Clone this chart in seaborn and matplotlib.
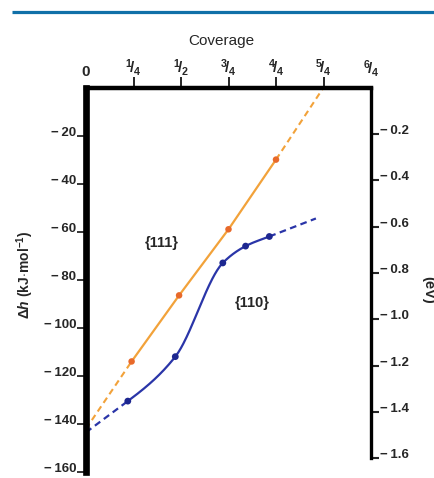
import numpy as np
import pandas as pd
import matplotlib
matplotlib.use("Agg")
import matplotlib.pyplot as plt
from matplotlib.lines import Line2D
import seaborn as sns

# Heat of adsorption vs. coverage on two crystal faces
cov_111 = [0.24, 0.49, 0.75, 1.00]
dh_111 = [-114.0, -86.5, -59.0, -30.0]
ext_111_cov = [0.0, 1.25]          # extrapolated ends of the {111} line
ext_111_dh = [-142.0, 0.0]

cov_110 = [0.22, 0.47, 0.72, 0.84, 0.965]
dh_110 = [-130.5, -112.0, -73.0, -66.0, -62.0]
ext_110_cov = [0.0, 1.21]          # extrapolated ends of the {110} curve
ext_110_dh = [-143.5, -54.5]

top_ticks = [0.25, 0.5, 0.75, 1.0, 1.25]
top_labels = [r"$^{1}\!/_{4}$", r"$^{1}\!/_{2}$", r"$^{3}\!/_{4}$",
              r"$^{4}\!/_{4}$", r"$^{5}\!/_{4}$"]
end_ticks = [0.0, 1.5]
end_labels = ["0", r"$^{6}\!/_{4}$"]
kj_ticks = [-20, -40, -60, -80, -100, -120, -140, -160]
ev_ticks = [-0.2, -0.4, -0.6, -0.8, -1.0, -1.2, -1.4, -1.6]
KJ_PER_EV = 96.485

ORANGE_LINE = "#f2a23a"
ORANGE_MARK = "#e8692a"
BLUE_LINE = "#2a35a8"
BLUE_MARK = "#1d2790"

sns.set_style("white")
plt.rcParams["font.family"] = ["Liberation Sans", "DejaVu Sans"]
plt.rcParams["mathtext.fontset"] = "custom"
plt.rcParams["mathtext.rm"] = "Liberation Sans:bold"
plt.rcParams["mathtext.it"] = "Liberation Sans:italic:bold"
plt.rcParams["mathtext.bf"] = "Liberation Sans:bold"
plt.rcParams["mathtext.default"] = "bf"


def hermite_curve(x, y, m_start, m_end, n=60):
    """Monotone piecewise-cubic curve through (x, y) with given end slopes."""
    x = np.asarray(x, float)
    y = np.asarray(y, float)
    h = np.diff(x)
    d = np.diff(y) / h
    m = np.zeros(len(x))
    for k in range(1, len(x) - 1):
        if d[k - 1] * d[k] > 0:
            w1 = 2 * h[k] + h[k - 1]
            w2 = h[k] + 2 * h[k - 1]
            m[k] = (w1 + w2) / (w1 / d[k - 1] + w2 / d[k])
    m[0], m[-1] = m_start, m_end
    xs, ys = [], []
    for k in range(len(x) - 1):
        t = np.linspace(0, 1, n)
        h00 = 2 * t**3 - 3 * t**2 + 1
        h10 = t**3 - 2 * t**2 + t
        h01 = -2 * t**3 + 3 * t**2
        h11 = t**3 - t**2
        seg = h00 * y[k] + h10 * h[k] * m[k] + h01 * y[k + 1] + h11 * h[k] * m[k + 1]
        xs.append(x[k] + t * h[k])
        ys.append(seg)
    return np.concatenate(xs), np.concatenate(ys)


fig = plt.figure(figsize=(4.34, 4.78), dpi=100)
ax = fig.add_axes([86 / 434, 6 / 478, 285 / 434, 384.5 / 478])

dash = (3, 2)

# {111}: straight line, dashed extrapolations at both ends
df111 = pd.DataFrame({"cov": cov_111, "dh": dh_111})
sns.lineplot(x=[ext_111_cov[0], cov_111[0]], y=[ext_111_dh[0], dh_111[0]], ax=ax,
             color=ORANGE_LINE, lw=1.5, linestyle=(0, dash))
sns.lineplot(data=df111, x="cov", y="dh", ax=ax, color=ORANGE_LINE, lw=1.6,
             estimator=None, sort=False)
sns.lineplot(x=[cov_111[-1], ext_111_cov[1]], y=[dh_111[-1], ext_111_dh[1]], ax=ax,
             color=ORANGE_LINE, lw=1.5, linestyle=(0, dash))
sns.scatterplot(data=df111, x="cov", y="dh", ax=ax, color=ORANGE_MARK, s=22,
                marker="o", edgecolor="none", zorder=4)

# {110}: smooth curve through the points, dashed extrapolations
slope0 = (dh_110[0] - ext_110_dh[0]) / (cov_110[0] - ext_110_cov[0])
slope1 = (ext_110_dh[1] - dh_110[-1]) / (ext_110_cov[1] - cov_110[-1])
cx, cy = hermite_curve(cov_110, dh_110, slope0, slope1)
df110 = pd.DataFrame({"cov": cov_110, "dh": dh_110})
sns.lineplot(x=[ext_110_cov[0], cov_110[0]], y=[ext_110_dh[0], dh_110[0]], ax=ax,
             color=BLUE_LINE, lw=1.6, linestyle=(0, dash))
sns.lineplot(x=cx, y=cy, ax=ax, color=BLUE_LINE, lw=1.6, estimator=None, sort=False)
sns.lineplot(x=[cov_110[-1], ext_110_cov[1]], y=[dh_110[-1], ext_110_dh[1]], ax=ax,
             color=BLUE_LINE, lw=1.6, linestyle=(0, dash))
sns.scatterplot(data=df110, x="cov", y="dh", ax=ax, color=BLUE_MARK, s=24,
                marker="o", edgecolor="none", zorder=4)

ax.text(0.40, -64.5, "{111}", fontsize=10.5, fontweight="bold", ha="center", va="center")
ax.text(0.877, -89.5, "{110}", fontsize=10.5, fontweight="bold", ha="center", va="center")

ax.set_xlim(0, 1.5)
ax.set_ylim(-160, 0)
ax.set_xlabel("")
ax.set_ylabel("")

# top coverage axis
ax.xaxis.tick_top()
ax.set_xticks(top_ticks, labels=top_labels)
ax.set_xticks(end_ticks, labels=end_labels, minor=True)
ax.tick_params(axis="x", which="major", direction="out", length=8, width=1.4,
               pad=-1, labelsize=11, top=True, bottom=False)
ax.tick_params(axis="x", which="minor", length=0, pad=6, labelsize=11,
               top=True, bottom=False)
for lab in ax.get_xticklabels(minor=True):
    lab.set_fontweight("bold")

# left kJ/mol axis
ax.set_yticks(kj_ticks, labels=[f"\u2212\u2009{abs(v)}" for v in kj_ticks])
ax.tick_params(axis="y", direction="out", length=6.5, width=1.3, pad=0.5,
               labelsize=9.5, left=True, right=False)
for lab in ax.get_yticklabels():
    lab.set_fontweight("bold")
    lab.set_verticalalignment("baseline")

for side in ("bottom", "right"):
    ax.spines[side].set_visible(False)
ax.spines["left"].set_linewidth(4.8)
ax.spines["left"].set_color("black")
ax.spines["top"].set_linewidth(3.2)
ax.spines["top"].set_color("black")

# right eV axis
ax2 = ax.twinx()
ax2.set_ylim(-160 / KJ_PER_EV, 0)
ax2.set_yticks(ev_ticks, labels=[f"\u2212\u2009{abs(v):.1f}" for v in ev_ticks])
ax2.tick_params(axis="y", direction="out", length=6, width=1.5, pad=0.5,
                labelsize=9.5)
for lab in ax2.get_yticklabels():
    lab.set_fontweight("bold")
    lab.set_verticalalignment("baseline")
for side in ("top", "bottom", "left"):
    ax2.spines[side].set_visible(False)
ax2.spines["right"].set_bounds(-1.6, 0)
ax2.spines["right"].set_linewidth(2.4)
ax2.spines["right"].set_color("black")
ax2.grid(False)
ax.grid(False)

fig.text(221 / 434, 1 - 41 / 478, "Coverage", fontsize=11, ha="center", va="center")
fig.text(25 / 434, 1 - 275 / 478, r"$\Delta \mathit{h}$ (kJ$\cdot$mol$^{-1}$)",
         fontsize=10, fontweight="bold", rotation=90, ha="center", va="center")
fig.text(428 / 434, 1 - 290 / 478, "(eV)", fontsize=10.5, fontweight="bold",
         rotation=270, ha="center", va="center")

# header rule
fig.add_artist(Line2D([12 / 434, 1.0], [1 - 11.5 / 478, 1 - 11.5 / 478],
                      color="#1070a8", lw=2.3, solid_capstyle="butt"))

fig.savefig("out.png", dpi=100)
